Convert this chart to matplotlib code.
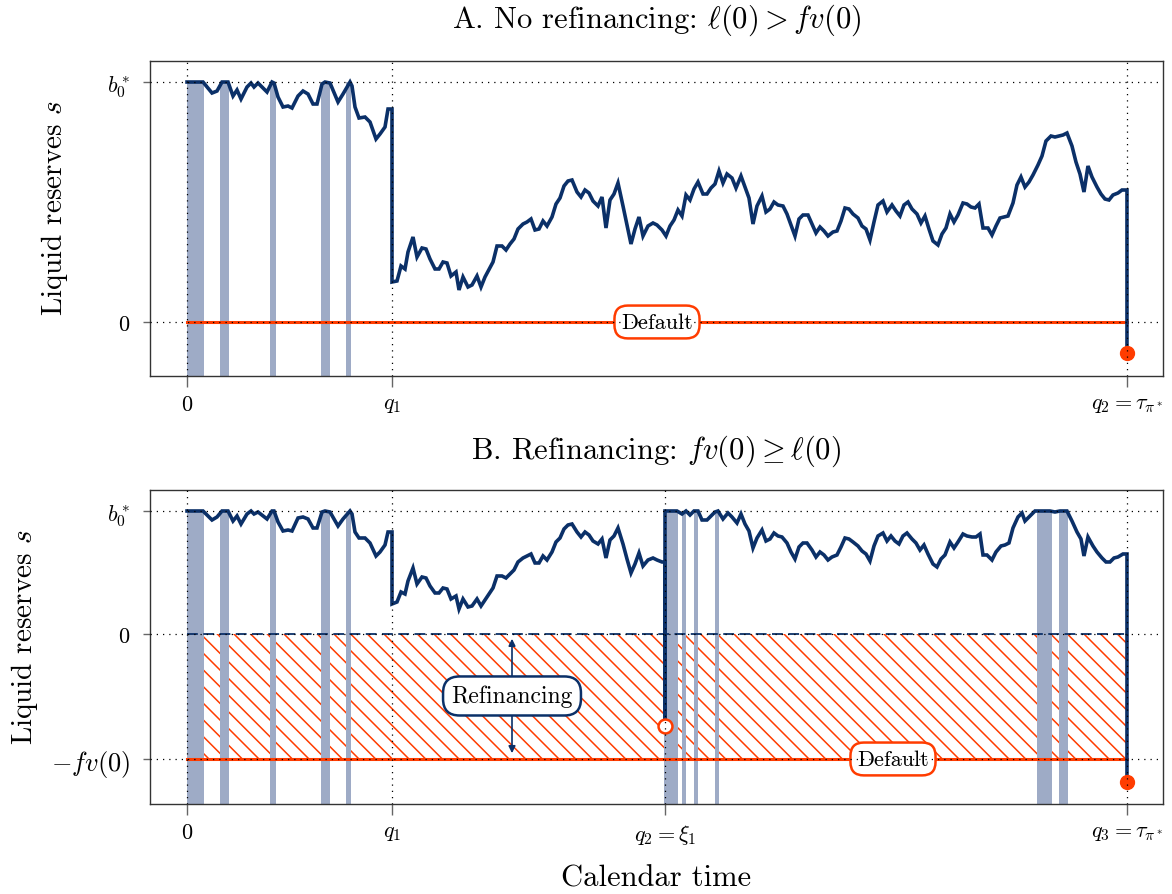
import matplotlib
matplotlib.use('Agg')
import matplotlib.pyplot as plt

plt.rcParams['font.family'] = 'serif'
plt.rcParams['font.serif'] = ['cmr10', 'DejaVu Serif']
plt.rcParams['mathtext.fontset'] = 'cm'
plt.rcParams['axes.unicode_minus'] = False
plt.rcParams['hatch.linewidth'] = 1.1

NAVY = '#0b3068'
RED = '#ff3c00'
BAND = '#9eabc6'

# time axis: 0 .. 940 (arbitrary units), q1 = 205
q1 = 205
t_end = 940

# ---- panel A: no refinancing (b0* = 240) ----
b0_a = 240
path_a_pre = [(0, 240), (16, 240), (25, 229), (30, 231), (35, 240), (41, 240), (46, 226), (50, 232),
              (54, 223), (60, 235), (64, 239), (67, 235), (71, 239), (80, 230), (85, 240), (87, 239),
              (91, 225), (96, 215), (101, 216), (105, 214), (111, 226), (116, 231), (121, 228),
              (126, 218), (130, 218), (135, 238), (138, 240), (143, 239), (151, 220), (156, 228),
              (163, 240), (165, 236), (168, 215), (172, 204), (178, 205), (183, 200), (189, 183),
              (193, 188), (198, 195), (201, 213), (205, 213)]
path_a_post = [(205, 40), (210, 41), (214, 56), (218, 53), (221, 70), (226, 85), (230, 65), (235, 74),
               (239, 73), (243, 63), (248, 53), (252, 53), (256, 60), (260, 59), (264, 46), (269, 50),
               (272, 32), (276, 45), (281, 35), (285, 37), (290, 46), (294, 35), (298, 45), (306, 60),
               (310, 76), (315, 76), (319, 72), (323, 78), (327, 83), (331, 93), (336, 98), (340, 100),
               (344, 103), (348, 92), (352, 93), (356, 101), (360, 96), (365, 105), (369, 118),
               (373, 124), (377, 136), (381, 141), (385, 142), (390, 130), (394, 125), (398, 132),
               (402, 129), (406, 121), (411, 116), (415, 125), (419, 94), (423, 122), (427, 128),
               (431, 139), (436, 116), (440, 97), (444, 78), (448, 93), (452, 105), (456, 86),
               (461, 96), (466, 99), (470, 97), (475, 92), (479, 86), (483, 96), (487, 102), (491, 112),
               (495, 106), (499, 127), (503, 122), (507, 133), (511, 140), (516, 128), (520, 128),
               (524, 134), (528, 138), (532, 151), (536, 139), (540, 148), (545, 144), (549, 134),
               (554, 146), (558, 135), (562, 124), (566, 98), (570, 116), (575, 126), (579, 110),
               (583, 113), (587, 120), (591, 117), (596, 116), (600, 108), (604, 97), (608, 86),
               (612, 103), (616, 107), (621, 107), (625, 98), (629, 89), (633, 95), (637, 91),
               (641, 86), (646, 90), (650, 91), (654, 101), (658, 114), (662, 113), (666, 108),
               (671, 104), (675, 96), (679, 93), (683, 82), (687, 100), (691, 117), (696, 121),
               (700, 110), (705, 117), (709, 111), (713, 106), (717, 117), (721, 120), (725, 113),
               (730, 108), (734, 99), (738, 106), (742, 93), (746, 81), (751, 77), (755, 88), (759, 94),
               (763, 108), (767, 100), (771, 107), (776, 119), (780, 118), (784, 115), (788, 114),
               (792, 118), (796, 94), (801, 94), (805, 87), (809, 96), (813, 104), (817, 105),
               (821, 106), (826, 119), (830, 137), (834, 145), (838, 135), (842, 140), (846, 147),
               (851, 157), (855, 166), (859, 181), (864, 186), (868, 185), (872, 186), (876, 187),
               (880, 189), (885, 176), (889, 160), (893, 148), (897, 130), (901, 156), (905, 145),
               (910, 135), (914, 128), (918, 123), (922, 122), (926, 127), (931, 129), (935, 132),
               (939, 132), (940, 132)]
default_a = (940, -31)
bands_a = [(0, 17), (33, 42), (83, 89), (134, 143), (159, 164)]

# ---- panel B: refinancing (b0* = 123, fv(0) = 125) ----
b0_b = 123
fv_b = 125
q2_b = 478
path_b_pre = [(0, 123), (16, 123), (25, 114), (30, 117), (35, 123), (41, 123), (46, 113), (50, 118),
              (54, 110), (60, 120), (64, 123), (67, 120), (71, 122), (80, 115), (85, 123), (87, 123),
              (91, 112), (96, 103), (101, 104), (105, 103), (111, 116), (116, 117), (121, 115),
              (126, 106), (130, 106), (135, 122), (138, 123), (143, 122), (151, 108), (156, 115),
              (163, 123), (165, 120), (168, 102), (172, 96), (178, 96), (183, 91), (189, 78),
              (193, 82), (198, 89), (201, 102), (205, 102)]
path_b_mid = [(205, 30), (210, 32), (214, 42), (218, 40), (221, 53), (226, 66), (230, 50), (235, 57),
              (239, 56), (243, 48), (248, 41), (252, 41), (256, 46), (260, 45), (264, 35), (269, 38),
              (272, 25), (276, 35), (281, 27), (285, 28), (290, 35), (294, 28), (298, 34), (306, 46),
              (310, 58), (315, 58), (319, 56), (323, 60), (327, 64), (331, 72), (336, 76), (340, 78),
              (344, 80), (348, 71), (352, 71), (356, 78), (360, 74), (365, 82), (369, 92), (373, 96),
              (377, 105), (381, 109), (385, 110), (390, 102), (394, 97), (398, 102), (402, 99),
              (406, 93), (411, 90), (415, 95), (419, 76), (423, 94), (427, 98), (431, 106), (436, 90),
              (440, 75), (444, 61), (448, 70), (452, 81), (456, 68), (461, 74), (466, 76), (470, 74),
              (475, 72), (478, 72)]
hit_b = (478, -92)
path_b_post = [(478, 123), (490, 123), (495, 120), (499, 123), (503, 119), (507, 123), (511, 123),
               (515, 114), (520, 114), (524, 118), (528, 122), (531, 123), (536, 115), (541, 121),
               (545, 117), (550, 111), (554, 120), (558, 110), (562, 103), (566, 86), (570, 96),
               (575, 104), (579, 93), (583, 95), (587, 101), (591, 98), (595, 97), (600, 91), (604, 82),
               (608, 75), (612, 87), (616, 91), (620, 91), (625, 84), (629, 77), (633, 82), (637, 79),
               (641, 74), (645, 77), (650, 79), (654, 87), (658, 96), (662, 95), (666, 92), (671, 88),
               (675, 83), (679, 80), (683, 73), (687, 88), (691, 98), (696, 101), (700, 93), (704, 98),
               (708, 93), (712, 90), (716, 98), (720, 101), (725, 95), (729, 91), (733, 84), (737, 89),
               (741, 80), (746, 70), (750, 67), (754, 75), (758, 79), (763, 92), (767, 86), (771, 92),
               (776, 100), (780, 98), (785, 97), (789, 97), (793, 100), (796, 79), (800, 79), (805, 74),
               (809, 82), (814, 88), (818, 89), (822, 91), (826, 106), (831, 117), (835, 121),
               (838, 113), (843, 118), (848, 123), (863, 123), (868, 122), (873, 123), (880, 123),
               (885, 113), (890, 102), (894, 95), (897, 78), (901, 97), (906, 88), (910, 82), (915, 76),
               (919, 72), (923, 72), (927, 76), (931, 77), (936, 80), (939, 80), (940, 80)]
default_b = (940, -148)
bands_b = bands_a + [(477, 491), (495, 499), (507, 511), (528, 532), (850, 865), (872, 881)]


def unzip(pairs):
    return [p[0] for p in pairs], [p[1] for p in pairs]


def style_axes(ax, xlim, ylim, xticks, xlabels, yticks, ylabels, ylab_x):
    ax.set_xlim(*xlim)
    ax.set_ylim(*ylim)
    ax.set_xticks(xticks)
    ax.set_xticklabels(xlabels, fontsize=16)
    ax.set_yticks(yticks)
    ax.set_yticklabels(ylabels, fontsize=16)
    ax.tick_params(axis='x', length=8, width=1, color='#666666', pad=5)
    ax.tick_params(axis='y', length=5, width=1, color='#666666', pad=9)
    for sp in ax.spines.values():
        sp.set_color('#333333')
        sp.set_linewidth(1.0)
    for x in xticks:
        ax.axvline(x, color='black', lw=0.9, ls=(0, (1, 4)), zorder=10)
    for y in yticks:
        ax.axhline(y, color='black', lw=0.9, ls=(0, (1, 4)), zorder=10)
    ax.set_ylabel('Liquid reserves $s$', fontsize=21)
    ax.yaxis.set_label_coords(ylab_x, 0.535)


fig = plt.figure(figsize=(11.72, 8.95), dpi=100)
ax1 = fig.add_axes([0.128, 0.5788, 0.8643, 0.3519])
ax2 = fig.add_axes([0.128, 0.1006, 0.8643, 0.3508])

# panel A
for a, b in bands_a:
    ax1.axvspan(a, b, ymin=0, ymax=(b0_a + 54) / (261 + 54), color=BAND, lw=0, zorder=2)
ax1.plot([0, t_end], [0, 0], color=RED, lw=2.2, zorder=4)
xa, ya = unzip(path_a_pre + path_a_post + [default_a])
ax1.plot(xa, ya, color=NAVY, lw=2.6, zorder=5, solid_joinstyle='miter')
ax1.plot(*default_a, 'o', color=RED, ms=10, zorder=7)
ax1.text(470, 0, 'Default', ha='center', va='center', fontsize=16, zorder=8,
         bbox=dict(boxstyle='round,pad=0.3,rounding_size=0.6', fc='white', ec=RED, lw=1.8))
style_axes(ax1, (-37, 976), (-54, 261), [0, q1, t_end], ['$0$', '$q_1$', r'$q_2 = \tau_{\pi^*}$'],
           [0, b0_a], ['$0$', '$b_0^*$'], -0.079)
ax1.set_title(r'A. No refinancing: $\ell(0) > fv(0)$', fontsize=22, pad=25)

# panel B
ax2.fill_between([0, t_end], -fv_b, 0, facecolor='none', edgecolor=RED, hatch='\\\\', lw=0, zorder=1)
for a, b in bands_b:
    ax2.axvspan(a, b, ymin=0, ymax=(b0_b + 170) / (144 + 170), color=BAND, lw=0, zorder=2)
ax2.plot([0, t_end], [-fv_b, -fv_b], color=RED, lw=2.2, zorder=4)
ax2.plot([0, t_end], [0, 0], color=NAVY, lw=1.3, ls=(0, (6, 3)), zorder=4)
xb, yb = unzip(path_b_pre + path_b_mid + [hit_b] + path_b_post + [default_b])
ax2.plot(xb, yb, color=NAVY, lw=2.6, zorder=5, solid_joinstyle='miter')
ax2.plot(*hit_b, 'o', mfc='white', mec=RED, mew=1.8, ms=10, zorder=7)
ax2.plot(*default_b, 'o', color=RED, ms=10, zorder=7)
ax2.annotate('', xy=(325, -2), xytext=(325, -fv_b + 3), zorder=8,
             arrowprops=dict(arrowstyle='<|-|>', color=NAVY, lw=1.2, mutation_scale=10))
ax2.text(325, -62, 'Refinancing', ha='center', va='center', fontsize=17, zorder=9,
         bbox=dict(boxstyle='round,pad=0.35,rounding_size=0.7', fc='white', ec=NAVY, lw=1.8))
ax2.text(706, -fv_b, 'Default', ha='center', va='center', fontsize=16, zorder=8,
         bbox=dict(boxstyle='round,pad=0.3,rounding_size=0.6', fc='white', ec=RED, lw=1.8))
style_axes(ax2, (-37, 976), (-170, 144), [0, q1, q2_b, t_end],
           ['$0$', '$q_1$', r'$q_2 = \xi_1$', r'$q_3 = \tau_{\pi^*}$'],
           [-fv_b, 0, b0_b], [r'$-fv(0)$', '$0$', '$b_0^*$'], -0.1085)
ax2.get_yticklabels()[0].set_fontsize(19)
ax2.set_title(r'B. Refinancing: $fv(0) \geq \ell(0)$', fontsize=22, pad=23)
ax2.set_xlabel('Calendar time', fontsize=22, labelpad=13)

fig.savefig('out.png', dpi=100)
